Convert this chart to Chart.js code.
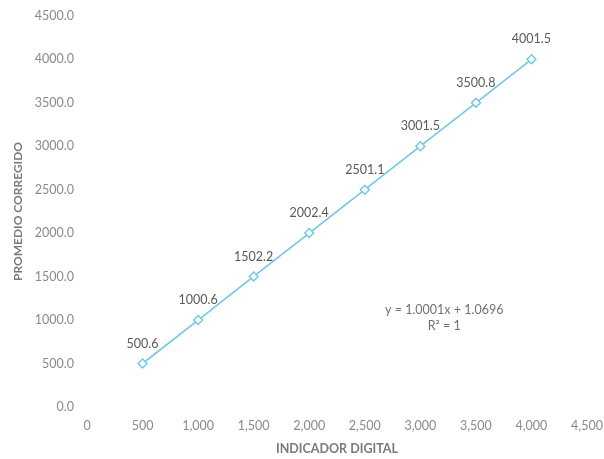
<!DOCTYPE html>
<html>
<head>
<meta charset="utf-8">
<script src="https://cdn.jsdelivr.net/npm/chart.js@4"></script>
<style>
  html, body { margin: 0; padding: 0; background: #ffffff; }
  #wrap { width: 604px; height: 459px; position: relative; }
</style>
</head>
<body>
<div id="wrap"><canvas id="c" width="604" height="459"></canvas></div>
<script>
// Data
const indicadorDigital = [500, 1000, 1500, 2000, 2500, 3000, 3500, 4000];
const promedioCorregido = [500.6, 1000.6, 1502.2, 2002.4, 2501.1, 3001.5, 3500.8, 4001.5];
const pointLabels = ['500.6', '1000.6', '1502.2', '2002.4', '2501.1', '3001.5', '3500.8', '4001.5'];
const xTickValues = [0, 500, 1000, 1500, 2000, 2500, 3000, 3500, 4000, 4500];
const yTickValues = [0, 500, 1000, 1500, 2000, 2500, 3000, 3500, 4000, 4500];
const trendlineText = ['y = 1.0001x + 1.0696', 'R² = 1'];
const xTitle = 'INDICADOR DIGITAL';
const yTitle = 'PROMEDIO CORREGIDO';

const FONT = 'Lato, "Open Sans", "DejaVu Sans", sans-serif';
const LINE = 'rgb(112,200,228)';

const labelPlugin = {
  id: 'pointLabels',
  afterDatasetsDraw(chart) {
    const ctx = chart.ctx;
    const meta = chart.getDatasetMeta(0);
    ctx.save();
    ctx.font = '12.5px ' + FONT;
    ctx.fillStyle = '#5a5a5a';
    ctx.textAlign = 'center';
    ctx.textBaseline = 'middle';
    meta.data.forEach((pt, i) => {
      ctx.fillText(pointLabels[i], pt.x, pt.y - 20);
    });
    // trendline equation
    const xs = chart.scales.x, ys = chart.scales.y;
    const ex = xs.getPixelForValue(3215);
    const ey = ys.getPixelForValue(1115);
    ctx.font = '12.5px ' + FONT;
    ctx.fillStyle = '#707070';
    ctx.fillText(trendlineText[0], ex, ey);
    ctx.fillText(trendlineText[1], ex, ey + 16);
    ctx.restore();
  }
};

new Chart(document.getElementById('c'), {
  type: 'scatter',
  data: {
    datasets: [{
      data: indicadorDigital.map((x, i) => ({ x: x, y: promedioCorregido[i] })),
      showLine: true,
      borderColor: LINE,
      borderWidth: 1.6,
      pointStyle: 'rectRot',
      pointRadius: 4.5,
      pointBorderWidth: 1.4,
      pointBackgroundColor: 'rgba(255,255,255,0.9)',
      pointBorderColor: LINE,
      pointHoverRadius: 4.5
    }]
  },
  plugins: [labelPlugin],
  options: {
    responsive: false,
    animation: false,
    layout: { padding: 0 },
    plugins: { legend: { display: false }, tooltip: { enabled: false } },
    scales: {
      x: {
        type: 'linear',
        min: 0, max: 4500,
        afterBuildTicks(scale) { scale.ticks = xTickValues.map(v => ({ value: v })); },
        afterFit(scale) { scale.height = 52; scale.paddingRight = 17; scale.paddingLeft = 0; },
        grid: { display: false, drawTicks: false },
        border: { display: false },
        ticks: {
          padding: 11,
          color: '#8a8a8a',
          font: { family: FONT, size: 12.5 },
          maxRotation: 0,
          callback: v => v.toLocaleString('en-US')
        },
        title: {
          display: true, text: xTitle,
          color: '#7a7a7a',
          font: { family: FONT, size: 12.5, weight: 'bold' },
          padding: { top: 0, bottom: 3 }
        }
      },
      y: {
        type: 'linear',
        min: 0, max: 4500,
        afterBuildTicks(scale) { scale.ticks = yTickValues.map(v => ({ value: v })); },
        afterFit(scale) { scale.width = 87; scale.paddingTop = 16; scale.paddingBottom = 0; },
        grid: { display: false, drawTicks: false },
        border: { display: false },
        ticks: {
          padding: 13,
          color: '#8a8a8a',
          font: { family: FONT, size: 12.5 },
          callback: v => Number(v).toFixed(1)
        },
        title: {
          display: true, text: yTitle,
          color: '#7a7a7a',
          font: { family: FONT, size: 12, weight: 'bold' },
          padding: { top: 11, bottom: 0 }
        }
      }
    }
  }
});
</script>
</body>
</html>
